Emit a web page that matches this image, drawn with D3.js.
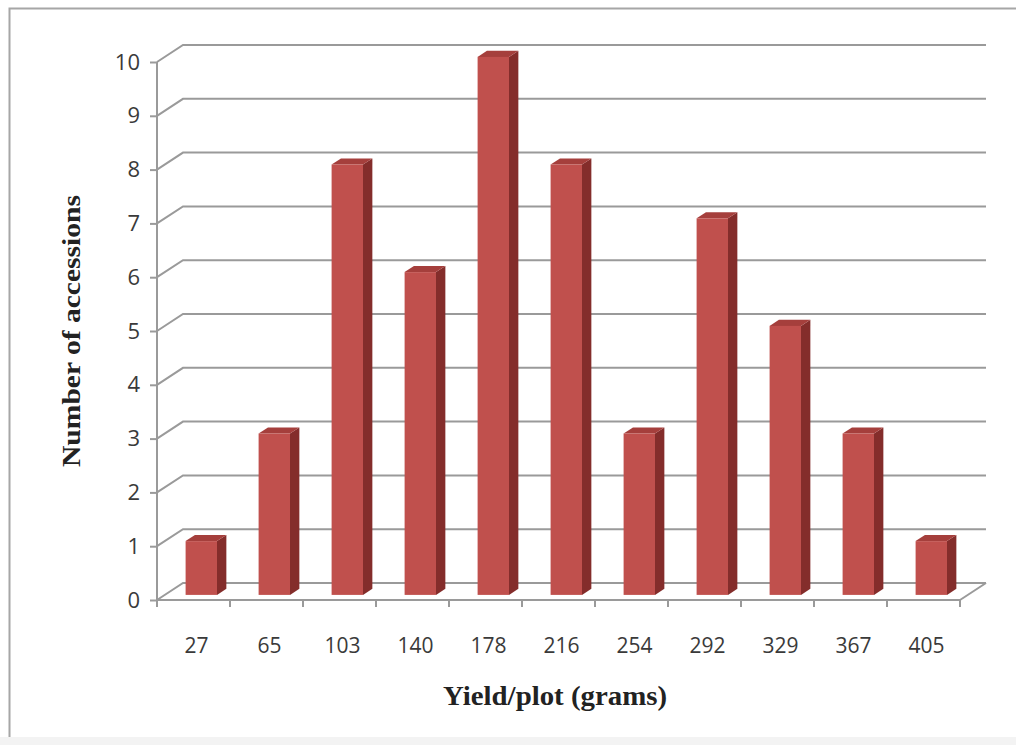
<!DOCTYPE html>
<html>
<head>
<meta charset="utf-8">
<script src="https://cdn.jsdelivr.net/npm/d3@7"></script>
<style>
  body { margin: 0; background: #fff; }
  svg { display: block; }
</style>
</head>
<body>
<div id="chart"></div>
<script>
const categories = ["27", "65", "103", "140", "178", "216", "254", "292", "329", "367", "405"];
const counts = [1, 3, 8, 6, 10, 8, 3, 7, 5, 3, 1];
const yTicks = [0, 1, 2, 3, 4, 5, 6, 7, 8, 9, 10];

function drawChart () {
    const width = 1016;
    const height = 745;
    const plot = { left: 157, right: 960, top: 62, bottom: 600 };
    const depth = { dx: 26, dy: -17 };   // 3D floor depth
    const front = 0.3, barDepth = 0.36;   // bar position inside the depth

    const xScale = d3.scaleBand()
        .domain(categories)
        .range([plot.left, plot.right])
        .paddingInner(0.57)
        .paddingOuter(0.285);
    const yScale = d3.scaleLinear().domain([0, 10]).range([plot.bottom, plot.top]);

    const svg = d3.select("#chart").append("svg")
        .attr("width", width)
        .attr("height", height);

    // outer frame
    svg.append("rect")
        .attr("x", 0).attr("y", 737).attr("width", width).attr("height", 8)
        .attr("fill", "#f3f3f3");
    svg.append("path")
        .attr("d", "M9.5,737 V8.5 H1016")
        .attr("fill", "none").attr("stroke", "#a6a6a6").attr("stroke-width", 2);

    const grid = "#9a9a9a";

    // back wall gridlines with the diagonal return to the axis
    svg.append("g").selectAll("path")
        .data(yTicks)
        .join("path")
        .attr("d", d => {
            const y = yScale(d);
            return `M${plot.left},${y} L${plot.left + depth.dx},${y + depth.dy} H${plot.right + depth.dx}`;
        })
        .attr("fill", "none")
        .attr("stroke", grid)
        .attr("stroke-width", 2);

    // floor right edge
    svg.append("path")
        .attr("d", `M${plot.right},${plot.bottom} L${plot.right + depth.dx},${plot.bottom + depth.dy}`)
        .attr("stroke", grid).attr("stroke-width", 2);

    // bars as 3D boxes
    const ox = depth.dx * front, oy = depth.dy * front;
    const bx = depth.dx * barDepth, by = depth.dy * barDepth;
    const bars = svg.append("g").selectAll("g")
        .data(categories.map((c, i) => ({ c, v: counts[i] })))
        .join("g");

    bars.append("path")   // side
        .attr("d", d => {
            const x = xScale(d.c) + xScale.bandwidth() + ox;
            const y0 = yScale(0) + oy, y1 = yScale(d.v) + oy;
            return `M${x},${y0} L${x + bx},${y0 + by} L${x + bx},${y1 + by} L${x},${y1} Z`;
        })
        .attr("fill", "#842d2b");
    bars.append("path")   // top
        .attr("d", d => {
            const x0 = xScale(d.c) + ox, x1 = x0 + xScale.bandwidth();
            const y = yScale(d.v) + oy;
            return `M${x0},${y} L${x0 + bx},${y + by} L${x1 + bx},${y + by} L${x1},${y} Z`;
        })
        .attr("fill", "#a53f3c");
    bars.append("rect")   // front
        .attr("x", d => xScale(d.c) + ox)
        .attr("y", d => yScale(d.v) + oy)
        .attr("width", xScale.bandwidth())
        .attr("height", d => yScale(0) - yScale(d.v))
        .attr("fill", "#c0504d");

    // y axis
    const yAxis = svg.append("g")
        .attr("transform", `translate(${plot.left},0)`)
        .call(d3.axisLeft(yScale).tickValues(yTicks).tickSize(7).tickPadding(10).tickFormat(d3.format("d")));
    yAxis.select(".domain").attr("stroke", grid).attr("stroke-width", 2).attr("d", `M0,${plot.top}V${plot.bottom}`);
    yAxis.selectAll(".tick line").attr("stroke", grid).attr("stroke-width", 2);
    yAxis.selectAll("text")
        .attr("font-family", "'Open Sans', sans-serif")
        .attr("font-size", 22)
        .attr("fill", "#3a3a3a");

    // x axis: ticks on band boundaries, labels at band centres
    const step = (plot.right - plot.left) / categories.length;
    const xAxisG = svg.append("g");
    xAxisG.append("path")
        .attr("d", `M${plot.left},${plot.bottom} H${plot.right}`)
        .attr("stroke", grid).attr("stroke-width", 2);
    xAxisG.selectAll("line")
        .data(d3.range(categories.length + 1))
        .join("line")
        .attr("x1", i => plot.left + i * step)
        .attr("x2", i => plot.left + i * step)
        .attr("y1", plot.bottom)
        .attr("y2", plot.bottom + 7)
        .attr("stroke", grid).attr("stroke-width", 2);
    xAxisG.selectAll("text")
        .data(categories)
        .join("text")
        .attr("x", d => xScale(d) + xScale.bandwidth() / 2 + 3)
        .attr("y", 653)
        .attr("text-anchor", "middle")
        .attr("font-family", "'Open Sans', sans-serif")
        .attr("font-size", 21)
        .attr("fill", "#3a3a3a")
        .text(d => d);

    // axis titles
    svg.append("text")
        .attr("transform", "translate(80,331) rotate(-90)")
        .attr("text-anchor", "middle")
        .attr("font-family", "'Liberation Serif', serif")
        .attr("font-weight", "bold")
        .attr("font-size", 26)
        .attr("fill", "#222")
        .attr("textLength", 272)
        .attr("lengthAdjust", "spacingAndGlyphs")
        .text("Number of accessions");

    svg.append("text")
        .attr("x", 555)
        .attr("y", 705)
        .attr("text-anchor", "middle")
        .attr("font-family", "'Liberation Serif', serif")
        .attr("font-weight", "bold")
        .attr("font-size", 28)
        .attr("fill", "#222")
        .attr("textLength", 224)
        .attr("lengthAdjust", "spacingAndGlyphs")
        .text("Yield/plot (grams)");
}
drawChart()
</script>
</body>
</html>
